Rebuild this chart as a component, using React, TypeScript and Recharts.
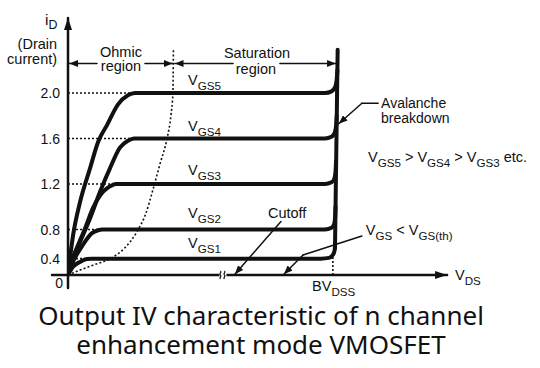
import React from "react";
import { LineChart, Line, XAxis, YAxis, ReferenceLine, ReferenceDot } from "recharts";

const Y_TICKS = [0, 0.4, 0.8, 1.2, 1.6, 2.0];
// the printed current axis is not to scale near zero: where each tick sits
const Y_TICK_POS = [0, 0.18, 0.5, 1.0, 1.5, 2.0];
const Y_TICK_LABELS = ["0", "0.4", "0.8", "1.2", "1.6", "2.0"];

const V_MAX = 142;
const I_MAX = 2.66;
const BV_DSS = 100;

// [V_DS, i_D]
const VGS5 = [[0, 0], [1.9, 0.72], [4.5, 1.04], [8.3, 1.34], [11.3, 1.57], [14.7, 1.72], [18.8, 1.9], [22.5, 1.98], [25.2, 2.0], [96.5, 2.0], [99.0, 2.015], [100.3, 2.05], [100.9, 2.11], [101.2, 2.2]];
const VGS4 = [[0, 0], [1.9, 0.42], [4.5, 0.63], [8.3, 0.9], [12.0, 1.13], [15.8, 1.34], [19.5, 1.52], [22.5, 1.58], [24.8, 1.6], [96.5, 1.6], [99.0, 1.615], [100.2, 1.65], [100.7, 1.71], [100.95, 1.8]];
const VGS3 = [[0, 0], [1.5, 0.32], [3.4, 0.55], [6.4, 0.81], [9.4, 0.99], [13.1, 1.13], [15.8, 1.18], [18.0, 1.2], [96.5, 1.2], [99.0, 1.215], [100.1, 1.25], [100.5, 1.31], [100.7, 1.4]];
const VGS2 = [[0, 0], [1.1, 0.22], [2.6, 0.41], [5.6, 0.59], [9.0, 0.75], [11.3, 0.79], [12.8, 0.8], [96.5, 0.8], [99.0, 0.815], [100.0, 0.85], [100.35, 0.91], [100.5, 1.0]];
const VGS1 = [[0, 0], [1.9, 0.2], [4.5, 0.32], [7.1, 0.39], [9.0, 0.4], [95.0, 0.4], [98.0, 0.41], [99.5, 0.45], [100.2, 0.52], [100.35, 0.62]];
const CURVES = [VGS5, VGS4, VGS3, VGS2, VGS1];
const CURVE_LEVELS = [2.0, 1.6, 1.2, 0.8, 0.4];
const CURVE_NAMES = ["GS5", "GS4", "GS3", "GS2", "GS1"];
const CURVE_LABEL_I = [2.07, 1.67, 1.28, 0.9, 0.55];

// dotted ohmic / saturation boundary
const OHMIC_EDGE = [[0, 0], [4.5, 0.12], [9.4, 0.24], [16.9, 0.42], [21.4, 0.55], [25.9, 0.77], [29.3, 0.945], [31.9, 1.15], [34.6, 1.38], [37.2, 1.6], [38.7, 1.81], [39.4, 2.0], [39.6, 2.38]];
// avalanche breakdown edge
const BREAKDOWN = [[100.3, 0.55], [101.3, 2.38]];

const INK = "#111";
const FONT = "'Liberation Sans', Arial, Helvetica, sans-serif";

function warp(i: number) {
  if (i <= 0) return (i * Y_TICK_POS[1]) / Y_TICKS[1];
  for (let k = 1; k < Y_TICKS.length; k++) {
    if (i <= Y_TICKS[k]) {
      const t = (i - Y_TICKS[k - 1]) / (Y_TICKS[k] - Y_TICKS[k - 1]);
      return Y_TICK_POS[k - 1] + t * (Y_TICK_POS[k] - Y_TICK_POS[k - 1]);
    }
  }
  const n = Y_TICKS.length - 1;
  const slope = (Y_TICK_POS[n] - Y_TICK_POS[n - 1]) / (Y_TICKS[n] - Y_TICKS[n - 1]);
  return Y_TICK_POS[n] + (i - Y_TICKS[n]) * slope;
}

const toPts = (c: number[][]) => c.map(([v, i]) => ({ v, y: warp(i) }));
const pt = (v: number, i: number) => ({ x: v, y: warp(i) });

type Part = string | { t: string; sub: true };
const sub = (t: string): Part => ({ t, sub: true });

function Label({ x, y, parts, anchor = "start", size = 14.5, drop = 5 }: any) {
  let down = false;
  return (
    <text x={x} y={y} textAnchor={anchor} fontFamily={FONT} fontSize={size} fill={INK} style={{ whiteSpace: "pre" }}>
      {parts.map((p: Part, k: number) => {
        const isSub = typeof p !== "string";
        const t = typeof p === "string" ? p : p.t;
        let dy = 0;
        if (isSub && !down) { dy = drop; down = true; }
        else if (!isSub && down) { dy = -drop; down = false; }
        return (
          <tspan key={k} dy={dy} fontSize={isSub ? size * 0.8 : size}>{t}</tspan>
        );
      })}
    </text>
  );
}

const note = (key: string, v: number, i: number, parts: Part[], anchor = "start", size = 14.5, drop = 5) => (
  <ReferenceDot
    key={key}
    x={v}
    y={warp(i)}
    r={0}
    ifOverflow="visible"
    shape={(p: any) => <Label x={p.cx} y={p.cy} parts={parts} anchor={anchor} size={size} drop={drop} />}
  />
);

const seg = (key: string, a: { x: number; y: number }, b: { x: number; y: number }, opts: any = {}) => (
  <ReferenceLine
    key={key}
    segment={[a, b]}
    ifOverflow="visible"
    shape={(p: any) => (
      <line
        x1={p.x1} y1={p.y1} x2={p.x2} y2={p.y2}
        stroke={INK}
        strokeWidth={opts.width ?? 1.5}
        strokeDasharray={opts.dash}
        strokeLinecap={opts.dash ? "butt" : "round"}
        markerEnd={opts.marker ? `url(#${opts.marker})` : undefined}
      />
    )}
  />
);

const YTick = (p: any) => {
  const idx = Y_TICK_POS.indexOf(p.payload.value);
  const zero = idx === 0;
  return (
    <text x={p.x + (zero ? 3 : 0)} y={p.y + (zero ? 13 : 5)} textAnchor="end" fontFamily={FONT} fontSize={14} fill={INK}>
      {Y_TICK_LABELS[idx]}
    </text>
  );
};

export default function App() {
  const knee = (c: number[][], level: number) => (c.find(([, i]) => i >= level) || c[0])[0];
  return (
    <div style={{ position: "fixed", left: 0, top: 0, width: 540, height: 368, background: "#fff" }}>
      <svg width={0} height={0} style={{ position: "absolute" }}>
        <defs>
          <marker id="tip" viewBox="0 0 10 8" refX="10" refY="4" markerWidth="9" markerHeight="7" markerUnits="userSpaceOnUse" orient="auto">
            <path d="M0,0 L10,4 L0,8 z" fill={INK} />
          </marker>
          <marker id="axisTip" viewBox="0 0 12 8" refX="12" refY="4" markerWidth="12" markerHeight="8" markerUnits="userSpaceOnUse" orient="auto">
            <path d="M0,0 L12,4 L0,8 z" fill={INK} />
          </marker>
        </defs>
      </svg>
      <LineChart width={540} height={300} margin={{ top: 18, right: 94, bottom: 25, left: 0 }}>
        <XAxis type="number" dataKey="v" domain={[0, V_MAX]} allowDataOverflow hide />
        <YAxis
          type="number"
          domain={[0, warp(I_MAX)]}
          allowDataOverflow
          ticks={Y_TICK_POS}
          interval={0}
          tick={YTick}
          axisLine={false}
          tickLine={false}
          tickSize={0}
          tickMargin={8}
          width={68}
        />

        {CURVE_LEVELS.map((lv, k) => seg(`g${k}`, pt(0, lv), pt(knee(CURVES[k], lv), lv), { dash: "2 2", width: 1.6 }))}
        {seg("bv", pt(BV_DSS - 0.5, 0), pt(BV_DSS - 0.5, 0.45), { dash: "2 2", width: 1.6 })}

        <Line data={toPts(OHMIC_EDGE)} dataKey="y" type="monotone" stroke={INK} strokeWidth={1.6} strokeDasharray="2 2.2" dot={false} activeDot={false} isAnimationActive={false} />
        {CURVES.map((c, k) => (
          <Line key={k} data={toPts(c)} dataKey="y" type="monotone" stroke={INK} strokeWidth={4} strokeLinecap="round" strokeLinejoin="round" dot={false} activeDot={false} isAnimationActive={false} />
        ))}
        <Line data={toPts(BREAKDOWN)} dataKey="y" type="linear" stroke={INK} strokeWidth={4} strokeLinecap="round" dot={false} activeDot={false} isAnimationActive={false} />

        {seg("xaxis", pt(-6, 0), pt(V_MAX + 0.4, 0), { width: 2.5, marker: "axisTip" })}
        {seg("yaxis", pt(0, -0.32), pt(0, I_MAX), { width: 2.5, marker: "axisTip" })}

        {seg("oh1", pt(10.9, 2.26), pt(0.5, 2.26), { marker: "tip" })}
        {seg("oh2", pt(28.9, 2.26), pt(39.3, 2.26), { marker: "tip" })}
        {seg("sa1", pt(62.0, 2.26), pt(40.1, 2.26), { marker: "tip" })}
        {seg("sa2", pt(79.6, 2.26), pt(100.6, 2.26), { marker: "tip" })}
        {seg("av1", pt(116.5, 1.91), pt(110.4, 1.91))}
        {seg("av2", pt(110.4, 1.91), pt(101.7, 1.73), { marker: "tip" })}
        {seg("co", pt(80.0, 0.87), pt(62.7, 0.02), { marker: "tip" })}
        {seg("th1", pt(110.4, 0.71), pt(88.3, 0.45))}
        {seg("th2", pt(88.3, 0.45), pt(81.1, 0.02), { marker: "tip" })}

        <ReferenceDot
          x={58.2}
          y={0}
          r={0}
          ifOverflow="visible"
          shape={(p: any) => (
            <g fill="none" stroke={INK} strokeWidth={1.2}>
              <rect x={p.cx - 3.5} y={p.cy - 3} width={7} height={6} fill="#fff" stroke="none" />
              <path d={`M${p.cx - 2.5},${p.cy + 4} c-2,-2 2,-2 0,-4 c-2,-2 2,-2 0,-4`} />
              <path d={`M${p.cx + 1.5},${p.cy + 4} c-2,-2 2,-2 0,-4 c-2,-2 2,-2 0,-4`} />
            </g>
          )}
        />

        {note("iD", -8.6, 2.6, ["i", sub("D")], "start", 15.5, 4)}
        {note("drain", -4.1, 2.39, ["(Drain"], "end")}
        {note("current", -4.1, 2.255, ["current)"], "end")}
        {note("ohmic", 19.9, 2.32, ["Ohmic"], "middle")}
        {note("ohmic2", 19.9, 2.19, ["region"], "middle")}
        {note("sat", 71.0, 2.31, ["Saturation"], "middle")}
        {note("sat2", 70.6, 2.17, ["region"], "middle")}
        {CURVE_NAMES.map((n, k) => note(`lab${k}`, 45.1, CURVE_LABEL_I[k], ["V", sub(n)]))}
        {note("aval", 117.6, 1.87, ["Avalanche"], "start", 14)}
        {note("aval2", 117.6, 1.736, ["breakdown"], "start", 14)}
        {note("order", 112.7, 1.39, ["V", sub("GS5"), " > V", sub("GS4"), " > V", sub("GS3"), " etc."])}
        {note("cut", 75.1, 0.9, ["Cutoff"])}
        {note("th", 111.9, 0.725, ["V", sub("GS"), " < V", sub("GS(th)")])}
        {note("bvdss", 91.7, -0.39, ["BV", sub("DSS")])}
        {note("vds", 145.4, -0.12, ["V", sub("DS")])}
      </LineChart>
      <div
        style={{
          position: "absolute",
          left: 0,
          top: 301,
          width: 522,
          textAlign: "center",
          fontFamily: "'Noto Sans', sans-serif",
          fontSize: 26,
          lineHeight: "29px",
          color: INK,
        }}
      >
        Output IV characteristic of n channel
        <br />
        enhancement mode VMOSFET
      </div>
    </div>
  );
}
